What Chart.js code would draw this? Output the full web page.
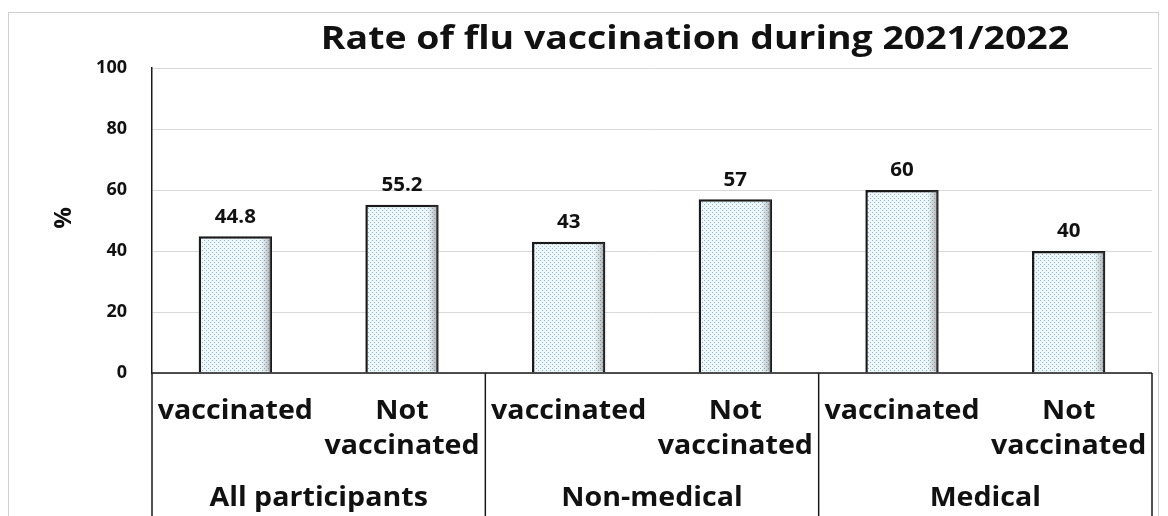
<!DOCTYPE html>
<html>
<head>
<meta charset="utf-8">
<script src="https://cdn.jsdelivr.net/npm/chart.js@4"></script>
<style>
  html, body { margin: 0; padding: 0; background: #fff; }
  #wrap { width: 1168px; height: 516px; }
</style>
</head>
<body>
<div id="wrap"><canvas id="fluChart" width="1168" height="516"></canvas></div>
<script>
// 데이터
const subLabels = [['vaccinated'], ['Not', 'vaccinated'], ['vaccinated'], ['Not', 'vaccinated'], ['vaccinated'], ['Not', 'vaccinated']];
const groupLabels = ['All participants', 'Non-medical', 'Medical'];
const rates = [44.8, 55.2, 43, 57, 60, 40];
const valueLabels = ['44.8', '55.2', '43', '57', '60', '40'];
const yTicks = [0, 20, 40, 60, 80, 100];

const FONT = '"Open Sans", "Liberation Sans", sans-serif';

// 점무늬 채우기
function makeDots() {
  const c = document.createElement('canvas');
  c.width = 4; c.height = 4;
  const g = c.getContext('2d');
  g.fillStyle = '#eef7fa';
  g.fillRect(0, 0, 4, 4);
  g.fillStyle = '#8fb6c6';
  g.fillRect(0, 0, 1, 1);
  g.fillRect(2, 2, 1, 1);
  return g.createPattern(c, 'repeat');
}

// 가로로 늘린 글자
function wideText(ctx, text, x, y, sx) {
  ctx.save();
  ctx.translate(x, y);
  ctx.scale(sx, 1);
  ctx.fillText(text, 0, 0);
  ctx.restore();
}

// 제목, 프레임, 아래쪽 분류 상자
const decor = {
  id: 'decor',
  beforeDraw(chart) {
    const ctx = chart.ctx;
    ctx.save();
    ctx.fillStyle = '#fff';
    ctx.fillRect(0, 0, chart.width, chart.height);
    ctx.strokeStyle = '#d0d0d0';
    ctx.lineWidth = 1;
    ctx.strokeRect(8.5, 12.5, 1150, 520);
    ctx.restore();
  },
  afterDatasetsDraw(chart) {
    const ctx = chart.ctx;
    const area = chart.chartArea;
    const x = chart.scales.x;
    const n = rates.length;
    const step = (area.right - area.left) / n;

    ctx.save();
    // 막대 오른쪽 그늘
    chart.getDatasetMeta(0).data.forEach(bar => {
      const w = bar.width;
      const right = bar.x + w / 2 - 1;
      const grad = ctx.createLinearGradient(right - 10, 0, right, 0);
      grad.addColorStop(0, 'rgba(120,120,120,0)');
      grad.addColorStop(1, 'rgba(90,90,90,0.45)');
      ctx.fillStyle = grad;
      ctx.fillRect(right - 10, bar.y + 1, 10, bar.base - bar.y - 2);
    });

    // 값 라벨
    ctx.fillStyle = '#111';
    ctx.font = 'bold 19px ' + FONT;
    ctx.textAlign = 'center';
    ctx.textBaseline = 'middle';
    chart.getDatasetMeta(0).data.forEach((bar, i) => {
      wideText(ctx, valueLabels[i], bar.x, bar.y - 19, 1.08);
    });

    // 상자
    ctx.strokeStyle = '#1a1a1a';
    ctx.lineWidth = 1.5;
    ctx.beginPath();
    ctx.moveTo(area.left, area.bottom);
    ctx.lineTo(area.right, area.bottom);
    for (let g = 0; g <= groupLabels.length; g++) {
      const gx = area.left + g * step * 2;
      ctx.moveTo(gx, area.bottom);
      ctx.lineTo(gx, chart.height);
    }
    ctx.stroke();

    // 분류 라벨
    ctx.font = 'bold 26px ' + FONT;
    subLabels.forEach((lines, i) => {
      const cx = x.getPixelForValue(i);
      lines.forEach((t, k) => wideText(ctx, t, cx, area.bottom + 39 + k * 35, 1.1));
    });
    groupLabels.forEach((t, g) => {
      const cx = area.left + (g * 2 + 1) * step;
      wideText(ctx, t, cx, area.bottom + 126, 1.1);
    });

    // 제목
    ctx.font = 'bold 32px ' + FONT;
    wideText(ctx, 'Rate of flu vaccination during 2021/2022', 695, 40, 1.17);

    // 축 제목
    ctx.translate(64, 218);
    ctx.rotate(-Math.PI / 2);
    ctx.font = 'bold 24px ' + FONT;
    ctx.fillText('%', 0, 0);
    ctx.restore();
  }
};

const ctx = document.getElementById('fluChart').getContext('2d');
new Chart(ctx, {
  type: 'bar',
  data: {
    labels: subLabels.map(l => l.join(' ')),
    datasets: [{
      data: rates,
      backgroundColor: makeDots(),
      borderColor: '#1a1a1a',
      borderWidth: 2.5,
      barPercentage: 0.44,
      categoryPercentage: 1
    }]
  },
  options: {
    responsive: false,
    animation: false,
    layout: { padding: { left: 0, right: 16, top: 68, bottom: 143 } },
    plugins: { legend: { display: false }, title: { display: false }, tooltip: { enabled: false } },
    scales: {
      x: { display: false },
      y: {
        min: 0, max: 100,
        afterFit(scale) { scale.width = 152; },
        afterBuildTicks(scale) { scale.ticks = yTicks.map(v => ({ value: v })); },
        grid: { color: '#d9d9d9', lineWidth: 1, drawTicks: false },
        border: { color: '#1a1a1a', width: 1.5 },
        ticks: {
          padding: 25,
          color: '#111',
          font: { family: FONT, size: 18, weight: 'bold' }
        }
      }
    }
  },
  plugins: [decor]
});
</script>
</body>
</html>
